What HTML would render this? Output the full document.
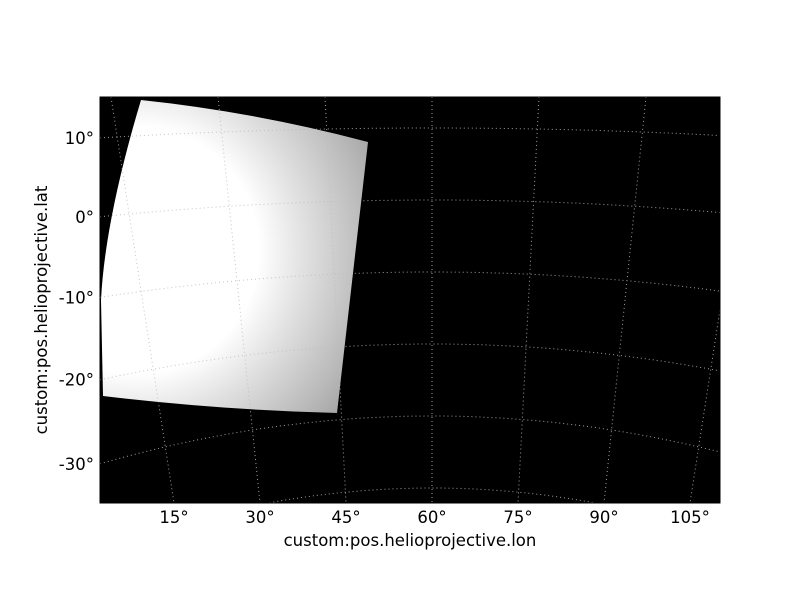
<!DOCTYPE html>
<html><head><meta charset="utf-8"><style>
body{margin:0;background:#fff;}
svg text{font-family:"DejaVu Sans","Liberation Sans",sans-serif;font-size:16.5px;fill:#000;}
</style></head><body>
<svg width="800" height="600" viewBox="0 0 800 600">
<defs>
<clipPath id="plotclip"><rect x="100" y="97" width="620" height="406"/></clipPath>
<radialGradient id="imgGrad" gradientUnits="userSpaceOnUse" cx="135" cy="250" r="275" fx="135" fy="250">
<stop offset="0" stop-color="#ffffff"/>
<stop offset="0.45" stop-color="#ffffff"/>
<stop offset="0.62" stop-color="#e0e0e0"/>
<stop offset="0.85" stop-color="#b8b8b8"/>
<stop offset="1" stop-color="#9c9c9c"/>
</radialGradient>
</defs>
<rect x="100" y="97" width="620" height="406" fill="#000"/>
<g clip-path="url(#plotclip)">
<path d="M141,100 Q255,112 368,142 L337,413 Q220,410 103,396 L101,300 Q105,220 141,100 Z" fill="url(#imgGrad)"/>
<g id="grid" opacity="0.85"></g>
</g>
<rect x="100" y="97" width="620" height="406" fill="none" stroke="#000" stroke-width="1"/>
<g id="ticks"></g>
<text x="410" y="546" text-anchor="middle">custom:pos.helioprojective.lon</text>
<text x="47" y="310" text-anchor="middle" transform="rotate(-90 47 310)">custom:pos.helioprojective.lat</text>
</svg>
<script>
const lonValues=[15,30,45,60,75,90,105];
const lonLabels=["15°","30°","45°","60°","75°","90°","105°"];
const latValues=[10,0,-10,-20,-30,-40];
const latTickValues=[10,0,-10,-20,-30];
const latLabels=["10°","0°","-10°","-20°","-30°"];
const NS="http://www.w3.org/2000/svg";
function lonTop(l){return 432+(l-60)*107/15;}
function lonBottom(l){return 432+(l-60)*86/15;}
function latY(lat,x){const k=1.52e-4-lat*0.7e-5+lat*lat*0.08e-6;const dx=x-432;return 200-lat*7.2+k*dx*dx;}
const grid=document.getElementById('grid');
lonValues.forEach((l,i)=>{
 const p=document.createElementNS(NS,'line');
 p.setAttribute('x1',lonTop(l));p.setAttribute('y1',97);
 p.setAttribute('x2',lonBottom(l));p.setAttribute('y2',503);
 p.setAttribute('stroke','#bbb');p.setAttribute('stroke-dasharray','1 3');p.setAttribute('stroke-width','1');
 
 
 grid.appendChild(p);
});
latValues.forEach(lat=>{
 let d='';
 for(let x=100;x<=720;x+=10){d+=(x===100?'M':'L')+x+','+latY(lat,x).toFixed(1);}
 const p=document.createElementNS(NS,'path');
 p.setAttribute('d',d);p.setAttribute('fill','none');
 p.setAttribute('stroke','#bbb');p.setAttribute('stroke-dasharray','1 3');p.setAttribute('stroke-width','1');
 
 
 grid.appendChild(p);
});
const ticks=document.getElementById('ticks');
lonValues.forEach((l,i)=>{
 const t=document.createElementNS(NS,'text');
 t.setAttribute('x',lonBottom(l));t.setAttribute('y',523);t.setAttribute('text-anchor','middle');
 t.textContent=lonLabels[i];
 
 
 ticks.appendChild(t);
});
latTickValues.forEach((lat,i)=>{
 const t=document.createElementNS(NS,'text');
 t.setAttribute('x',94);t.setAttribute('y',latY(lat,100)+6);t.setAttribute('text-anchor','end');
 t.textContent=latLabels[i];
 
 
 ticks.appendChild(t);
});
</script>
</body></html>
